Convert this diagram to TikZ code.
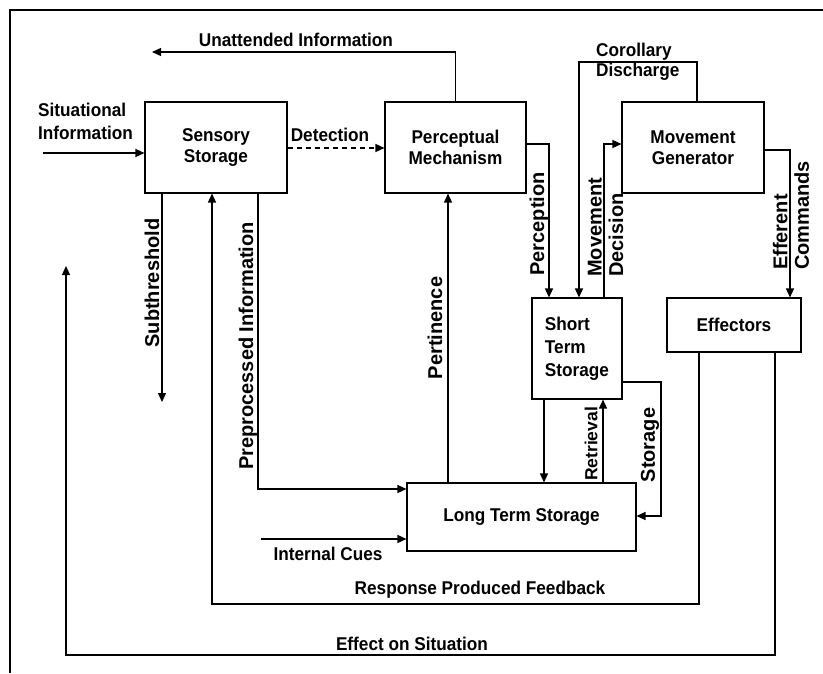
\documentclass[tikz,border=0pt]{standalone}
\usepackage{fontspec}
\setmainfont{Liberation Sans}[FakeStretch=0.93]
\newfontfamily\uprightsans{Liberation Sans}
\usetikzlibrary{arrows.meta}

% fonts for horizontal and rotated labels
\newcommand\horizfont{\fontsize{18.5}{21}\selectfont\bfseries}
\newcommand\vertfont{\uprightsans\fontsize{20}{21.5}\selectfont\bfseries}

\tikzset{
  blk/.style={draw, line width=1.1pt, inner sep=0pt, align=center, font=\horizfont},
  conn/.style={line width=1.3pt, -{Triangle[length=9pt,width=8pt]}},
  lbl/.style={inner sep=0pt, font=\horizfont},
  vlbl/.style={inner sep=0pt, rotate=90, font=\vertfont},
}

\begin{document}
\begin{tikzpicture}[x=1pt,y=-1pt]
\useasboundingbox (0,0) rectangle (823,673);

% outer frame (left and top edges)
\draw[line width=2.5pt] (10,673) -- (10,10) -- (823,10);

% processing stages
\node[blk, minimum width=142pt, minimum height=91pt] (ss) at (216,147.5) {Sensory\\Storage};
\node[blk, minimum width=141pt, minimum height=91pt] (pm) at (455.5,147.5) {Perceptual\\Mechanism};
\node[blk, minimum width=142pt, minimum height=91pt] (mg) at (693,147.5) {Movement\\Generator};
\node[blk, minimum width=90pt, minimum height=101pt, align=left,
      font=\fontsize{18.5}{23}\selectfont\bfseries] (sts) at (577,348.5) {Short\\Term\\Storage};
\node[blk, minimum width=134pt, minimum height=54pt] (eff) at (734,325) {Effectors};
\node[blk, minimum width=229pt, minimum height=68pt] (lts) at (521.5,517) {Long Term Storage};

% situational input
\coordinate (sitsrc) at (43,153);
\draw[conn] (sitsrc) -- (sitsrc -| ss.west);
\node[lbl, anchor=west, align=left, font=\fontsize{18.5}{23}\selectfont\bfseries] (sitlbl) at (38,121.5) {Situational\\Information};

% detection
\draw[conn, dash pattern=on 5pt off 4pt] (ss.east |- 0,148) -- (pm.west |- 0,148);
\node[lbl] (detlbl) at (330,135) {Detection};

% unattended information
\coordinate (uaend) at (152,52);
\draw[conn] (pm.north) |- (uaend);
\node[lbl] (ualbl) at (296,40) {Unattended Information};

% perception
\draw[conn] (pm.east |- 0,144) -| (sts.north -| 549,0);
\node[vlbl] (perclbl) at (539,224) {Perception};

% movement decision
\draw[conn] (sts.north -| 604,0) |- (mg.west |- 0,144);
\node[vlbl, anchor=west, align=left] (mdlbl) at (605.5,277) {Movement\\Decision};

% corollary discharge
\draw[conn] (mg.north -| 697,0) |- (579,62) -- (sts.north -| 579,0);
\node[lbl, anchor=west, align=left, font=\fontsize{18.5}{20}\selectfont\bfseries] (corlbl) at (596,62) {Corollary\\Discharge};

% efferent commands
\draw[conn] (mg.east |- 0,150) -| (eff.north -| 790,0);
\node[vlbl, anchor=west, align=left] (eclbl) at (791,270) {Efferent\\Commands};

% pertinence
\draw[conn] (lts.north -| 448,0) -- (pm.south -| 448,0);
\node[vlbl] (pertlbl) at (435,328) {Pertinence};

% subthreshold
\coordinate (subend) at (162,402);
\draw[conn] (ss.south -| 162,0) -- (subend);
\node[vlbl] (sublbl) at (152,283) {Subthreshold};

% preprocessed information
\draw[conn] (ss.south -| 258,0) |- (lts.west |- 0,489);
\node[vlbl] (prelbl) at (248,346) {Preprocessed Information};

% exchange between short and long term storage
\draw[conn] (sts.south -| 544,0) -- (lts.north -| 544,0);
\draw[conn] (lts.north -| 603,0) -- (sts.south -| 603,0);
\node[vlbl, font=\uprightsans\fontsize{17.5}{20}\selectfont\bfseries] (retlbl) at (591,444) {Retrieval};
\draw[conn] (sts.east |- 0,382) -| (661,516) -- (lts.east |- 0,516);
\node[vlbl] (storlbl) at (650,445) {Storage};

% internal cues
\coordinate (icsrc) at (261,539);
\draw[conn] (icsrc) -- (icsrc -| lts.west);
\node[lbl] (iclbl) at (328,554) {Internal Cues};

% response produced feedback
\draw[conn] (eff.south -| 699,0) |- (212,604) -- (ss.south -| 212,0);
\node[lbl] (rpflbl) at (480,590) {Response Produced Feedback};

% effect on situation
\coordinate (eosend) at (66,266);
\draw[conn] (eff.south -| 775,0) |- (66,655) -- (eosend);
\node[lbl] (eoslbl) at (412,644) {Effect on Situation};
\end{tikzpicture}
\end{document}
